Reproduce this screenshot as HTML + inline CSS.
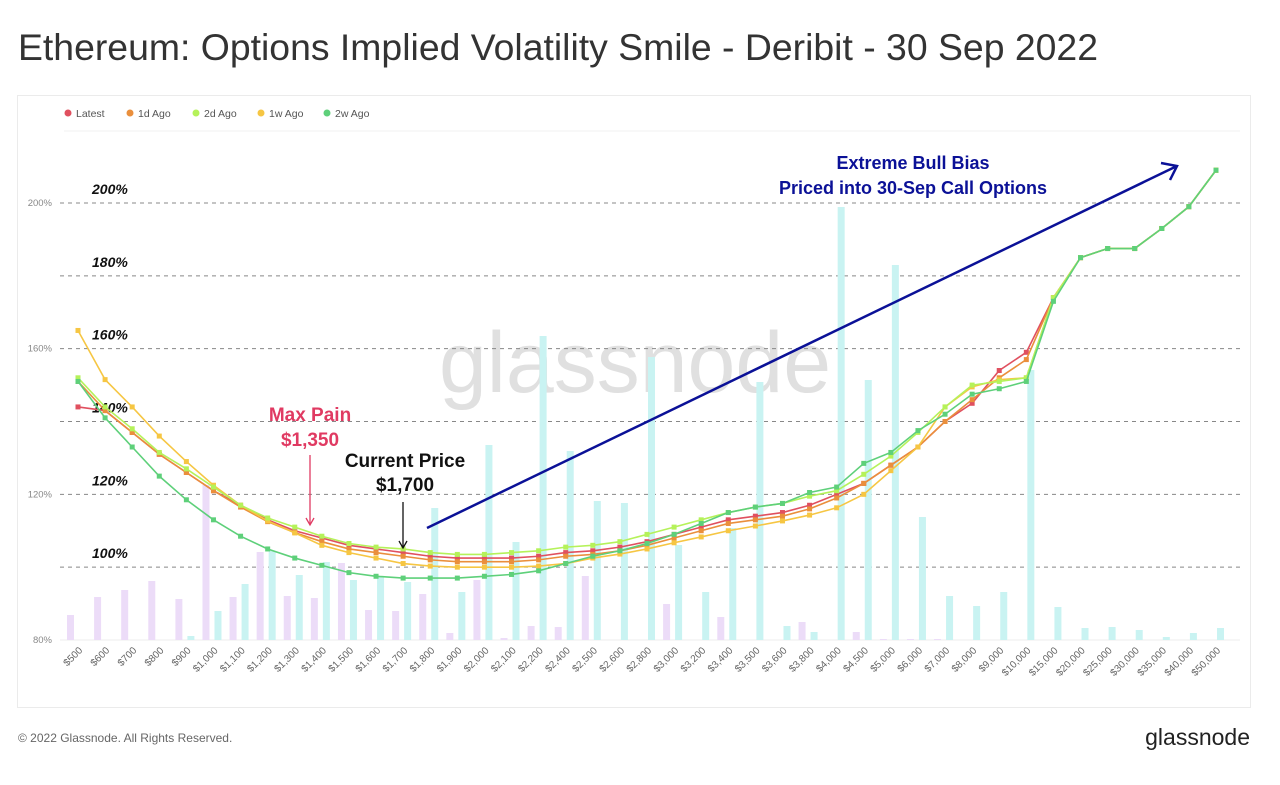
<!DOCTYPE html>
<html><head><meta charset="utf-8"><style>
body{margin:0;background:#fff;width:1280px;height:780px;overflow:hidden;font-family:"Liberation Sans",sans-serif}
</style></head><body>
<svg id="c" width="1280" height="780" xmlns="http://www.w3.org/2000/svg">
<text x="18" y="60" font-size="37" fill="#333" textLength="1080" lengthAdjust="spacingAndGlyphs">Ethereum: Options Implied Volatility Smile - Deribit - 30 Sep 2022</text>
<rect x="17.5" y="95.5" width="1233" height="612" fill="#fff" stroke="#ebebeb"/>
<g font-size="10.5" fill="#555">
<g><circle cx="68" cy="113" r="3.5" fill="#e0505f"/><text x="76" y="117">Latest</text></g>
<g><circle cx="130" cy="113" r="3.5" fill="#ea8f3c"/><text x="138" y="117">1d Ago</text></g>
<g><circle cx="196" cy="113" r="3.5" fill="#b5f25a"/><text x="204" y="117">2d Ago</text></g>
<g><circle cx="261" cy="113" r="3.5" fill="#f6c643"/><text x="269" y="117">1w Ago</text></g>
<g><circle cx="327" cy="113" r="3.5" fill="#5ed07a"/><text x="335" y="117">2w Ago</text></g>
</g>
<line x1="64" y1="131" x2="1240" y2="131" stroke="#f0f0f0"/>
<text x="635" y="392" font-size="86" fill="#e0e0e0" text-anchor="middle">glassnode</text>
<g id="grid"></g><g id="bars"></g><g id="lines"></g><g id="xt"></g>
<g font-weight="bold" font-size="19" fill="#e03a62" text-anchor="middle">
<text x="310" y="421">Max Pain</text><text x="310" y="446">$1,350</text>
<line x1="310" y1="455" x2="310" y2="524" stroke="#e03a62" stroke-width="1.3"/><path d="M306 518 L310 525 L314 518" fill="none" stroke="#e03a62" stroke-width="1.3"/></g>
<g font-weight="bold" font-size="19" fill="#111" text-anchor="middle">
<text x="405" y="467">Current Price</text><text x="405" y="491">$1,700</text>
<line x1="403" y1="502" x2="403" y2="547" stroke="#111" stroke-width="1.3"/><path d="M399 541 L403 548 L407 541" fill="none" stroke="#111" stroke-width="1.3"/></g>
<g font-weight="bold" font-size="18" fill="#0b1197" text-anchor="middle">
<text x="913" y="169">Extreme Bull Bias</text><text x="913" y="194">Priced into 30-Sep Call Options</text>
<line x1="427" y1="528" x2="1177" y2="166" stroke="#0b1197" stroke-width="2.5"/><path d="M1161 163 L1177 166 L1170 180" fill="none" stroke="#0b1197" stroke-width="2.5"/></g>
<text x="18" y="742" font-size="12" fill="#666">© 2022 Glassnode. All Rights Reserved.</text>
<text x="1250" y="745" font-size="23" fill="#222" text-anchor="end">glassnode</text>
</svg>
<script>
const categories=["$500","$600","$700","$800","$900","$1,000","$1,100","$1,200","$1,300","$1,400","$1,500","$1,600","$1,700","$1,800","$1,900","$2,000","$2,100","$2,200","$2,400","$2,500","$2,600","$2,800","$3,000","$3,200","$3,400","$3,500","$3,600","$3,800","$4,000","$4,500","$5,000","$6,000","$7,000","$8,000","$9,000","$10,000","$15,000","$20,000","$25,000","$30,000","$35,000","$40,000","$50,000"];
const putOI=[25,43,50,59,41,155,43,88,44,42,77,30,29,46,7,60,2,14,13,64,0,0,36,0,23,0,0,18,0,8,1,1,1,0,0,0,0,0,0,0,0,0,0];
const callOI=[0,0,0,0,4,29,56,89,65,78,60,64,58,132,48,195,98,304,189,139,137,283,95,48,112,258,14,8,433,260,375,123,44,34,48,270,33,12,13,10,3,7,12];
const tail=[174,185,187.5,187.5,193,199,209];
const latest=[144,143,137,131,126,121,117,113,110,108,106,105,104,103,102.5,102.5,102.5,103,104,104.5,105.5,107,109,111,113,114,115,117,120,123,128,133,140,145,154,159].concat(tail);
const ago1d=[151,143,137,131,126,121,116.5,112.5,109.5,107,105,104,103,102,101.5,101.5,101.5,102,103,103.5,104.5,106,108,110,112,113,114,116,119,123,128,133,140,146,152,157].concat(tail);
const ago2d=[152,144,138,131.5,127,122,117,113.5,111,108.5,106.5,105.5,105,104,103.5,103.5,104,104.5,105.5,106,107,109,111,113,115,116.5,117.5,119.5,121,125.5,130.5,137,144,150,151,152].concat(tail);
const ago1w=[165,151.5,144,136,129,122.5,117,112.7,109.4,106,104,102.5,101,100.3,100,100,100,100.3,101,102.5,103.6,105,106.7,108.3,110,111.3,112.7,114.3,116.3,120,126.5,133,144,149.5,151.5,152].concat(tail);
const ago2w=[151,141,133,125,118.5,113,108.5,105,102.5,100.5,98.5,97.5,97,97,97,97.5,98,99,101,103,104.5,106.5,109,112,115,116.5,117.5,120.5,122,128.5,131.5,137.5,142,147.5,149,151,173,185,187.5,187.5,193,199,209];
const yTicks=[80,120,160,200];
const gridLevels=[100,120,140,160,180,200];

const NS="http://www.w3.org/2000/svg";
const X0=78,X1=1216,YB=640,YT=203;
const x=i=>X0+i*(X1-X0)/(categories.length-1);
const y=v=>YB-(v-80)*(YB-YT)/120;
const yb=v=>YB-v*(YB-YT)/437;
function mk(tag,attrs,parent){const e=document.createElementNS(NS,tag);for(const k in attrs)e.setAttribute(k,attrs[k]);document.getElementById(parent).appendChild(e);return e;}
mk('line',{x1:60,y1:YB,x2:1240,y2:YB,stroke:'#eee'},'grid');
gridLevels.forEach(v=>{
 const l=mk('line',{x1:60,y1:y(v),x2:1240,y2:y(v),stroke:'#888','stroke-dasharray':'4,4','stroke-width':1},'grid');
 
 
 const t=mk('text',{x:92,y:y(v)-9,'font-size':14,'font-weight':'bold','font-style':'italic',fill:'#111'},'grid');t.textContent=v+'%';
 
 
});
yTicks.forEach(v=>{
 const t=mk('text',{x:52,y:y(v)+3,'font-size':9.5,fill:'#888','text-anchor':'end'},'grid');t.textContent=v+'%';
 
 
});
categories.forEach((c,i)=>{
 if(putOI[i]>0){const r=mk('rect',{x:x(i)-11,y:yb(putOI[i]),width:7,height:YB-yb(putOI[i]),fill:'#ecdcf8'},'bars');
 
 }
 if(callOI[i]>0){const r=mk('rect',{x:x(i)+1,y:yb(callOI[i]),width:7,height:YB-yb(callOI[i]),fill:'#c9f3f2'},'bars');
 
 }
 const tx=x(i)+5,ty=651;
 const t=mk('text',{x:tx,y:ty,'font-size':10,fill:'#666','text-anchor':'end',transform:`rotate(-45 ${tx} ${ty})`},'xt');t.textContent=c;
 
 
});
[[latest,'#e0505f','latest-line'],[ago1d,'#ea8f3c','1d-ago-line'],[ago1w,'#f6c643','1w-ago-line'],[ago2d,'#b5f25a','2d-ago-line'],[ago2w,'#5ed07a','2w-ago-line']].forEach(([d,col,nm])=>{
 const p=mk('polyline',{points:d.map((v,i)=>x(i)+','+y(v)).join(' '),fill:'none',stroke:col,'stroke-width':1.6},'lines');
 
 
 d.forEach((v,i)=>{const m=mk('rect',{x:x(i)-2.5,y:y(v)-2.5,width:5,height:5,fill:col},'lines');
 
 });
});
</script>
</body></html>
